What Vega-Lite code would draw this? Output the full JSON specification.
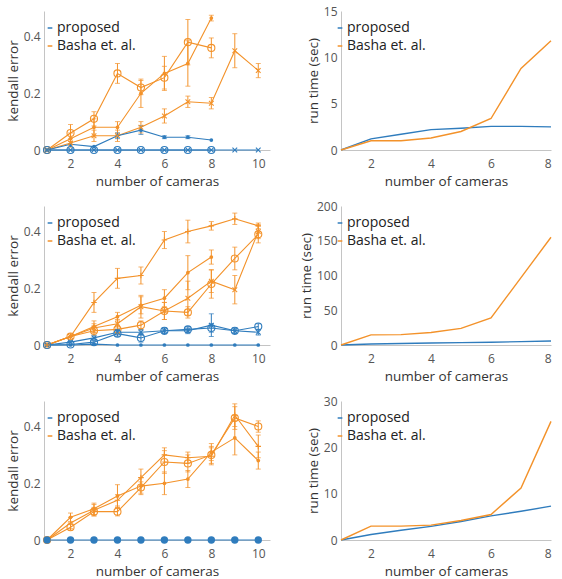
{
"$schema":"https://vega.github.io/schema/vega-lite/v6.json",
"padding":{"left":6,"top":5,"right":0,"bottom":0},
"background":"white",
"bounds":"flush",
"columns":2,
"spacing":{"row":56,"column":71},
"resolve":{"scale":{"color":"independent"},"legend":{"color":"independent"}},
"config":{
 "view":{"stroke":null},
 "font":"Open Sans",
 "axis":{"domainColor":"#c4c4c4","domainWidth":1,"ticks":false,"tickSize":0,"grid":false,"labelFont":"Open Sans","labelFontSize":12,"labelColor":"#555555","titleFont":"Open Sans","titleFontSize":13.5,"titleFontWeight":"normal","titleColor":"#333333"},
 "axisX":{"labelPadding":8,"titlePadding":5},
 "axisY":{"labelPadding":4,"titlePadding":3},
 "legend":{"padding":0,"symbolType":"stroke","symbolSize":22,"symbolStrokeWidth":1.5,"labelFont":"Open Sans","labelFontSize":14,"labelColor":"#222222","rowPadding":4,"labelOffset":0}
},
"datasets":{
"err":[
{"p":1,"s":"A","m":"Basha et. al.","k":"o","x":1,"y":0},
{"p":1,"s":"A","m":"Basha et. al.","k":"o","x":2,"y":0.06,"lo":0.03,"hi":0.09},
{"p":1,"s":"A","m":"Basha et. al.","k":"o","x":3,"y":0.11,"lo":0.085,"hi":0.135},
{"p":1,"s":"A","m":"Basha et. al.","k":"o","x":4,"y":0.27,"lo":0.235,"hi":0.305},
{"p":1,"s":"A","m":"Basha et. al.","k":"o","x":5,"y":0.22,"lo":0.195,"hi":0.245},
{"p":1,"s":"A","m":"Basha et. al.","k":"o","x":6,"y":0.255,"lo":0.215,"hi":0.295},
{"p":1,"s":"A","m":"Basha et. al.","k":"o","x":7,"y":0.38,"lo":0.30,"hi":0.46},
{"p":1,"s":"A","m":"Basha et. al.","k":"o","x":8,"y":0.36,"lo":0.325,"hi":0.395},
{"p":1,"s":"B","m":"Basha et. al.","k":".","x":1,"y":0},
{"p":1,"s":"B","m":"Basha et. al.","k":".","x":2,"y":0.04,"lo":0.02,"hi":0.06},
{"p":1,"s":"B","m":"Basha et. al.","k":".","x":3,"y":0.08,"lo":0.05,"hi":0.11},
{"p":1,"s":"B","m":"Basha et. al.","k":".","x":4,"y":0.08,"lo":0.06,"hi":0.10},
{"p":1,"s":"B","m":"Basha et. al.","k":".","x":5,"y":0.20,"lo":0.15,"hi":0.25},
{"p":1,"s":"B","m":"Basha et. al.","k":".","x":6,"y":0.27,"lo":0.21,"hi":0.33},
{"p":1,"s":"B","m":"Basha et. al.","k":".","x":7,"y":0.305,"lo":0.225,"hi":0.385},
{"p":1,"s":"B","m":"Basha et. al.","k":".","x":8,"y":0.465,"lo":0.455,"hi":0.475},
{"p":1,"s":"C","m":"Basha et. al.","k":"x","x":1,"y":0},
{"p":1,"s":"C","m":"Basha et. al.","k":"x","x":2,"y":0.025,"lo":0.01,"hi":0.04},
{"p":1,"s":"C","m":"Basha et. al.","k":"x","x":3,"y":0.05,"lo":0.03,"hi":0.07},
{"p":1,"s":"C","m":"Basha et. al.","k":"x","x":4,"y":0.05,"lo":0.03,"hi":0.07},
{"p":1,"s":"C","m":"Basha et. al.","k":"x","x":5,"y":0.08,"lo":0.06,"hi":0.10},
{"p":1,"s":"C","m":"Basha et. al.","k":"x","x":6,"y":0.12,"lo":0.095,"hi":0.145},
{"p":1,"s":"C","m":"Basha et. al.","k":"x","x":7,"y":0.17,"lo":0.15,"hi":0.19},
{"p":1,"s":"C","m":"Basha et. al.","k":"x","x":8,"y":0.165,"lo":0.145,"hi":0.185},
{"p":1,"s":"C","m":"Basha et. al.","k":"x","x":9,"y":0.35,"lo":0.29,"hi":0.41},
{"p":1,"s":"C","m":"Basha et. al.","k":"x","x":10,"y":0.28,"lo":0.255,"hi":0.305},
{"p":1,"s":"D","m":"proposed","k":".","x":1,"y":0},
{"p":1,"s":"D","m":"proposed","k":".","x":2,"y":0.02},
{"p":1,"s":"D","m":"proposed","k":".","x":3,"y":0.012},
{"p":1,"s":"D","m":"proposed","k":".","x":4,"y":0.05,"lo":0.04,"hi":0.06},
{"p":1,"s":"D","m":"proposed","k":".","x":5,"y":0.07,"lo":0.055,"hi":0.085},
{"p":1,"s":"D","m":"proposed","k":".","x":6,"y":0.045,"lo":0.04,"hi":0.05},
{"p":1,"s":"D","m":"proposed","k":".","x":7,"y":0.045,"lo":0.04,"hi":0.05},
{"p":1,"s":"D","m":"proposed","k":".","x":8,"y":0.035},
{"p":1,"s":"E","m":"proposed","k":"o","x":1,"y":0},
{"p":1,"s":"E","m":"proposed","k":"o","x":2,"y":0},
{"p":1,"s":"E","m":"proposed","k":"o","x":3,"y":0},
{"p":1,"s":"E","m":"proposed","k":"o","x":4,"y":0},
{"p":1,"s":"E","m":"proposed","k":"o","x":5,"y":0},
{"p":1,"s":"E","m":"proposed","k":"o","x":6,"y":0},
{"p":1,"s":"E","m":"proposed","k":"o","x":7,"y":0},
{"p":1,"s":"E","m":"proposed","k":"o","x":8,"y":0},
{"p":1,"s":"F","m":"proposed","k":"x","x":1,"y":0},
{"p":1,"s":"F","m":"proposed","k":"x","x":2,"y":0},
{"p":1,"s":"F","m":"proposed","k":"x","x":3,"y":0},
{"p":1,"s":"F","m":"proposed","k":"x","x":4,"y":0},
{"p":1,"s":"F","m":"proposed","k":"x","x":5,"y":0},
{"p":1,"s":"F","m":"proposed","k":"x","x":6,"y":0},
{"p":1,"s":"F","m":"proposed","k":"x","x":7,"y":0},
{"p":1,"s":"F","m":"proposed","k":"x","x":8,"y":0},
{"p":1,"s":"F","m":"proposed","k":"x","x":9,"y":0},
{"p":1,"s":"F","m":"proposed","k":"x","x":10,"y":0},
{"p":2,"s":"G","m":"Basha et. al.","k":"+","x":1,"y":0},
{"p":2,"s":"G","m":"Basha et. al.","k":"+","x":2,"y":0.03,"lo":0.02,"hi":0.04},
{"p":2,"s":"G","m":"Basha et. al.","k":"+","x":3,"y":0.15,"lo":0.115,"hi":0.185},
{"p":2,"s":"G","m":"Basha et. al.","k":"+","x":4,"y":0.235,"lo":0.2,"hi":0.27},
{"p":2,"s":"G","m":"Basha et. al.","k":"+","x":5,"y":0.245,"lo":0.215,"hi":0.275},
{"p":2,"s":"G","m":"Basha et. al.","k":"+","x":6,"y":0.37,"lo":0.34,"hi":0.40},
{"p":2,"s":"G","m":"Basha et. al.","k":"+","x":7,"y":0.40,"lo":0.36,"hi":0.44},
{"p":2,"s":"G","m":"Basha et. al.","k":"+","x":8,"y":0.42,"lo":0.405,"hi":0.435},
{"p":2,"s":"G","m":"Basha et. al.","k":"+","x":9,"y":0.445,"lo":0.425,"hi":0.465},
{"p":2,"s":"G","m":"Basha et. al.","k":"+","x":10,"y":0.42,"lo":0.41,"hi":0.43},
{"p":2,"s":"H","m":"Basha et. al.","k":".","x":1,"y":0},
{"p":2,"s":"H","m":"Basha et. al.","k":".","x":2,"y":0.03},
{"p":2,"s":"H","m":"Basha et. al.","k":".","x":3,"y":0.065,"lo":0.045,"hi":0.085},
{"p":2,"s":"H","m":"Basha et. al.","k":".","x":4,"y":0.10,"lo":0.085,"hi":0.115},
{"p":2,"s":"H","m":"Basha et. al.","k":".","x":5,"y":0.14,"lo":0.11,"hi":0.17},
{"p":2,"s":"H","m":"Basha et. al.","k":".","x":6,"y":0.165,"lo":0.135,"hi":0.195},
{"p":2,"s":"H","m":"Basha et. al.","k":".","x":7,"y":0.255,"lo":0.195,"hi":0.315},
{"p":2,"s":"H","m":"Basha et. al.","k":".","x":8,"y":0.31,"lo":0.285,"hi":0.335},
{"p":2,"s":"I","m":"Basha et. al.","k":"o","x":1,"y":0},
{"p":2,"s":"I","m":"Basha et. al.","k":"o","x":2,"y":0.03},
{"p":2,"s":"I","m":"Basha et. al.","k":"o","x":3,"y":0.05,"lo":0.035,"hi":0.065},
{"p":2,"s":"I","m":"Basha et. al.","k":"o","x":4,"y":0.055,"lo":0.04,"hi":0.07},
{"p":2,"s":"I","m":"Basha et. al.","k":"o","x":5,"y":0.07,"lo":0.055,"hi":0.085},
{"p":2,"s":"I","m":"Basha et. al.","k":"o","x":6,"y":0.12,"lo":0.09,"hi":0.15},
{"p":2,"s":"I","m":"Basha et. al.","k":"o","x":7,"y":0.115,"lo":0.095,"hi":0.135},
{"p":2,"s":"I","m":"Basha et. al.","k":"o","x":8,"y":0.215,"lo":0.165,"hi":0.265},
{"p":2,"s":"I","m":"Basha et. al.","k":"o","x":9,"y":0.305,"lo":0.265,"hi":0.345},
{"p":2,"s":"I","m":"Basha et. al.","k":"o","x":10,"y":0.39,"lo":0.36,"hi":0.42},
{"p":2,"s":"J","m":"Basha et. al.","k":"x","x":1,"y":0},
{"p":2,"s":"J","m":"Basha et. al.","k":"x","x":2,"y":0.03},
{"p":2,"s":"J","m":"Basha et. al.","k":"x","x":3,"y":0.06,"lo":0.045,"hi":0.075},
{"p":2,"s":"J","m":"Basha et. al.","k":"x","x":4,"y":0.075,"lo":0.06,"hi":0.09},
{"p":2,"s":"J","m":"Basha et. al.","k":"x","x":5,"y":0.135,"lo":0.095,"hi":0.175},
{"p":2,"s":"J","m":"Basha et. al.","k":"x","x":6,"y":0.12,"lo":0.09,"hi":0.15},
{"p":2,"s":"J","m":"Basha et. al.","k":"x","x":7,"y":0.165,"lo":0.105,"hi":0.225},
{"p":2,"s":"J","m":"Basha et. al.","k":"x","x":8,"y":0.225,"lo":0.185,"hi":0.265},
{"p":2,"s":"J","m":"Basha et. al.","k":"x","x":9,"y":0.195,"lo":0.145,"hi":0.245},
{"p":2,"s":"J","m":"Basha et. al.","k":"x","x":10,"y":0.40,"lo":0.375,"hi":0.425},
{"p":2,"s":"L","m":"proposed","k":"o","x":1,"y":0},
{"p":2,"s":"L","m":"proposed","k":"o","x":2,"y":0.002},
{"p":2,"s":"L","m":"proposed","k":"o","x":3,"y":0.01,"lo":0.005,"hi":0.015},
{"p":2,"s":"L","m":"proposed","k":"o","x":4,"y":0.04,"lo":0.03,"hi":0.05},
{"p":2,"s":"L","m":"proposed","k":"o","x":5,"y":0.025,"lo":0.01,"hi":0.04},
{"p":2,"s":"L","m":"proposed","k":"o","x":6,"y":0.05,"lo":0.04,"hi":0.06},
{"p":2,"s":"L","m":"proposed","k":"o","x":7,"y":0.055,"lo":0.045,"hi":0.065},
{"p":2,"s":"L","m":"proposed","k":"o","x":8,"y":0.06,"lo":0.045,"hi":0.075},
{"p":2,"s":"L","m":"proposed","k":"o","x":9,"y":0.05,"lo":0.04,"hi":0.06},
{"p":2,"s":"L","m":"proposed","k":"o","x":10,"y":0.065,"lo":0.055,"hi":0.075},
{"p":2,"s":"M","m":"proposed","k":"x","x":1,"y":0},
{"p":2,"s":"M","m":"proposed","k":"x","x":2,"y":0.01},
{"p":2,"s":"M","m":"proposed","k":"x","x":3,"y":0.025,"lo":0.015,"hi":0.035},
{"p":2,"s":"M","m":"proposed","k":"x","x":4,"y":0.045,"lo":0.035,"hi":0.055},
{"p":2,"s":"M","m":"proposed","k":"x","x":5,"y":0.045,"lo":0.035,"hi":0.055},
{"p":2,"s":"M","m":"proposed","k":"x","x":6,"y":0.05,"lo":0.04,"hi":0.06},
{"p":2,"s":"M","m":"proposed","k":"x","x":7,"y":0.05,"lo":0.04,"hi":0.06},
{"p":2,"s":"M","m":"proposed","k":"x","x":8,"y":0.07,"lo":0.03,"hi":0.11},
{"p":2,"s":"M","m":"proposed","k":"x","x":9,"y":0.05,"lo":0.04,"hi":0.06},
{"p":2,"s":"M","m":"proposed","k":"x","x":10,"y":0.045,"lo":0.035,"hi":0.055},
{"p":2,"s":"N","m":"proposed","k":".","x":1,"y":0},
{"p":2,"s":"N","m":"proposed","k":".","x":2,"y":0},
{"p":2,"s":"N","m":"proposed","k":".","x":3,"y":0.003},
{"p":2,"s":"N","m":"proposed","k":".","x":4,"y":0},
{"p":2,"s":"N","m":"proposed","k":".","x":5,"y":0},
{"p":2,"s":"N","m":"proposed","k":".","x":6,"y":0},
{"p":2,"s":"N","m":"proposed","k":".","x":7,"y":0},
{"p":2,"s":"N","m":"proposed","k":".","x":8,"y":0},
{"p":2,"s":"N","m":"proposed","k":".","x":9,"y":0},
{"p":2,"s":"N","m":"proposed","k":".","x":10,"y":0},
{"p":3,"s":"P","m":"Basha et. al.","k":"o","x":1,"y":0},
{"p":3,"s":"P","m":"Basha et. al.","k":"o","x":2,"y":0.045,"lo":0.035,"hi":0.055},
{"p":3,"s":"P","m":"Basha et. al.","k":"o","x":3,"y":0.10,"lo":0.085,"hi":0.115},
{"p":3,"s":"P","m":"Basha et. al.","k":"o","x":4,"y":0.10,"lo":0.085,"hi":0.115},
{"p":3,"s":"P","m":"Basha et. al.","k":"o","x":5,"y":0.185,"lo":0.165,"hi":0.205},
{"p":3,"s":"P","m":"Basha et. al.","k":"o","x":6,"y":0.275,"lo":0.235,"hi":0.315},
{"p":3,"s":"P","m":"Basha et. al.","k":"o","x":7,"y":0.27,"lo":0.24,"hi":0.30},
{"p":3,"s":"P","m":"Basha et. al.","k":"o","x":8,"y":0.30,"lo":0.27,"hi":0.33},
{"p":3,"s":"P","m":"Basha et. al.","k":"o","x":9,"y":0.43,"lo":0.39,"hi":0.47},
{"p":3,"s":"P","m":"Basha et. al.","k":"o","x":10,"y":0.40,"lo":0.38,"hi":0.42},
{"p":3,"s":"Q","m":"Basha et. al.","k":".","x":1,"y":0},
{"p":3,"s":"Q","m":"Basha et. al.","k":".","x":2,"y":0.08,"lo":0.065,"hi":0.095},
{"p":3,"s":"Q","m":"Basha et. al.","k":".","x":3,"y":0.11,"lo":0.09,"hi":0.13},
{"p":3,"s":"Q","m":"Basha et. al.","k":".","x":4,"y":0.155,"lo":0.115,"hi":0.195},
{"p":3,"s":"Q","m":"Basha et. al.","k":".","x":5,"y":0.19,"lo":0.16,"hi":0.22},
{"p":3,"s":"Q","m":"Basha et. al.","k":".","x":6,"y":0.20,"lo":0.16,"hi":0.24},
{"p":3,"s":"Q","m":"Basha et. al.","k":".","x":7,"y":0.215,"lo":0.185,"hi":0.245},
{"p":3,"s":"Q","m":"Basha et. al.","k":".","x":8,"y":0.31,"lo":0.28,"hi":0.34},
{"p":3,"s":"Q","m":"Basha et. al.","k":".","x":9,"y":0.36,"lo":0.30,"hi":0.42},
{"p":3,"s":"Q","m":"Basha et. al.","k":".","x":10,"y":0.28,"lo":0.25,"hi":0.31},
{"p":3,"s":"R","m":"Basha et. al.","k":"+","x":1,"y":0},
{"p":3,"s":"R","m":"Basha et. al.","k":"+","x":2,"y":0.06,"lo":0.04,"hi":0.08},
{"p":3,"s":"R","m":"Basha et. al.","k":"+","x":3,"y":0.105,"lo":0.085,"hi":0.125},
{"p":3,"s":"R","m":"Basha et. al.","k":"+","x":4,"y":0.14,"lo":0.12,"hi":0.16},
{"p":3,"s":"R","m":"Basha et. al.","k":"+","x":5,"y":0.22,"lo":0.19,"hi":0.25},
{"p":3,"s":"R","m":"Basha et. al.","k":"+","x":6,"y":0.30,"lo":0.275,"hi":0.325},
{"p":3,"s":"R","m":"Basha et. al.","k":"+","x":7,"y":0.29,"lo":0.27,"hi":0.31},
{"p":3,"s":"R","m":"Basha et. al.","k":"+","x":8,"y":0.295,"lo":0.265,"hi":0.325},
{"p":3,"s":"R","m":"Basha et. al.","k":"+","x":9,"y":0.44,"lo":0.40,"hi":0.48},
{"p":3,"s":"R","m":"Basha et. al.","k":"+","x":10,"y":0.33,"lo":0.29,"hi":0.37},
{"p":3,"s":"S","m":"proposed","k":"O","x":1,"y":0},
{"p":3,"s":"S","m":"proposed","k":"O","x":2,"y":0},
{"p":3,"s":"S","m":"proposed","k":"O","x":3,"y":0},
{"p":3,"s":"S","m":"proposed","k":"O","x":4,"y":0},
{"p":3,"s":"S","m":"proposed","k":"O","x":5,"y":0},
{"p":3,"s":"S","m":"proposed","k":"O","x":6,"y":0},
{"p":3,"s":"S","m":"proposed","k":"O","x":7,"y":0},
{"p":3,"s":"S","m":"proposed","k":"O","x":8,"y":0},
{"p":3,"s":"S","m":"proposed","k":"O","x":9,"y":0},
{"p":3,"s":"S","m":"proposed","k":"O","x":10,"y":0}
],
"time":[
{"p":1,"m":"proposed","x":1,"t":0},{"p":1,"m":"proposed","x":2,"t":1.2},{"p":1,"m":"proposed","x":3,"t":1.7},{"p":1,"m":"proposed","x":4,"t":2.2},{"p":1,"m":"proposed","x":5,"t":2.35},{"p":1,"m":"proposed","x":6,"t":2.55},{"p":1,"m":"proposed","x":7,"t":2.55},{"p":1,"m":"proposed","x":8,"t":2.5},
{"p":1,"m":"Basha et. al.","x":1,"t":0},{"p":1,"m":"Basha et. al.","x":2,"t":1.0},{"p":1,"m":"Basha et. al.","x":3,"t":1.0},{"p":1,"m":"Basha et. al.","x":4,"t":1.3},{"p":1,"m":"Basha et. al.","x":5,"t":2.0},{"p":1,"m":"Basha et. al.","x":6,"t":3.4},{"p":1,"m":"Basha et. al.","x":7,"t":8.8},{"p":1,"m":"Basha et. al.","x":8,"t":11.8},
{"p":2,"m":"proposed","x":1,"t":0},{"p":2,"m":"proposed","x":2,"t":1.5},{"p":2,"m":"proposed","x":3,"t":2.2},{"p":2,"m":"proposed","x":4,"t":2.8},{"p":2,"m":"proposed","x":5,"t":3.4},{"p":2,"m":"proposed","x":6,"t":4.0},{"p":2,"m":"proposed","x":7,"t":4.8},{"p":2,"m":"proposed","x":8,"t":5.8},
{"p":2,"m":"Basha et. al.","x":1,"t":0},{"p":2,"m":"Basha et. al.","x":2,"t":14.5},{"p":2,"m":"Basha et. al.","x":3,"t":15},{"p":2,"m":"Basha et. al.","x":4,"t":18},{"p":2,"m":"Basha et. al.","x":5,"t":24},{"p":2,"m":"Basha et. al.","x":6,"t":39},{"p":2,"m":"Basha et. al.","x":7,"t":97},{"p":2,"m":"Basha et. al.","x":8,"t":155},
{"p":3,"m":"proposed","x":1,"t":0},{"p":3,"m":"proposed","x":2,"t":1.2},{"p":3,"m":"proposed","x":3,"t":2.1},{"p":3,"m":"proposed","x":4,"t":2.95},{"p":3,"m":"proposed","x":5,"t":4.0},{"p":3,"m":"proposed","x":6,"t":5.2},{"p":3,"m":"proposed","x":7,"t":6.2},{"p":3,"m":"proposed","x":8,"t":7.3},
{"p":3,"m":"Basha et. al.","x":1,"t":0},{"p":3,"m":"Basha et. al.","x":2,"t":3.0},{"p":3,"m":"Basha et. al.","x":3,"t":3.0},{"p":3,"m":"Basha et. al.","x":4,"t":3.2},{"p":3,"m":"Basha et. al.","x":5,"t":4.2},{"p":3,"m":"Basha et. al.","x":6,"t":5.5},{"p":3,"m":"Basha et. al.","x":7,"t":11.2},{"p":3,"m":"Basha et. al.","x":8,"t":25.6}
]
},
"concat":[
 {"width":226,"height":139,"data":{"name":"err"},"transform":[{"filter":"datum.p==1"}],
  "encoding":{"x":{"field":"x","type":"quantitative","scale":{"domain":[0.87,10.5],"nice":false,"zero":false},"axis":{"values":[2,4,6,8,10],"title":"number of cameras"}}},
  "layer":[
   {"mark":{"type":"line","strokeWidth":1.1},"encoding":{"y":{"field":"y","type":"quantitative","scale":{"domain":[0,0.49],"nice":false},"axis":{"values":[0,0.1,0.2,0.3,0.4],"format":"~g","title":"kendall error"}},"detail":{"field":"s"},"color":{"field":"m","type":"nominal","title":null,"scale":{"domain":["proposed","Basha et. al."],"range":["#2f7cbd","#f3922a"]},"legend":{"orient":"none","legendX":-1,"legendY":10}}}},
   {"transform":[{"filter":"isValid(datum.lo)"}],"mark":{"type":"rule","strokeWidth":1},"encoding":{"y":{"field":"lo","type":"quantitative","scale":{"domain":[0,0.49],"nice":false},"title":"kendall error"},"y2":{"field":"hi"},"color":{"condition":{"test":"datum.m==='proposed'","value":"#2f7cbd"},"value":"#f3922a"}}},
   {"transform":[{"filter":"isValid(datum.lo)"}],"mark":{"type":"tick","orient":"horizontal","size":5,"thickness":1},"encoding":{"y":{"field":"lo","type":"quantitative","scale":{"domain":[0,0.49],"nice":false},"title":"kendall error"},"color":{"condition":{"test":"datum.m==='proposed'","value":"#2f7cbd"},"value":"#f3922a"}}},
   {"transform":[{"filter":"isValid(datum.lo)"}],"mark":{"type":"tick","orient":"horizontal","size":5,"thickness":1},"encoding":{"y":{"field":"hi","type":"quantitative","scale":{"domain":[0,0.49],"nice":false},"title":"kendall error"},"color":{"condition":{"test":"datum.m==='proposed'","value":"#2f7cbd"},"value":"#f3922a"}}},
   {"transform":[{"filter":"datum.k==='o'"}],"mark":{"type":"point","shape":"circle","filled":false,"size":50,"strokeWidth":1.1,"opacity":1},"encoding":{"y":{"field":"y","type":"quantitative","scale":{"domain":[0,0.49],"nice":false},"title":"kendall error"},"color":{"condition":{"test":"datum.m==='proposed'","value":"#2f7cbd"},"value":"#f3922a"}}},
   {"transform":[{"filter":"datum.k==='.'"}],"mark":{"type":"point","shape":"circle","filled":true,"size":14,"opacity":1},"encoding":{"y":{"field":"y","type":"quantitative","scale":{"domain":[0,0.49],"nice":false},"title":"kendall error"},"color":{"condition":{"test":"datum.m==='proposed'","value":"#2f7cbd"},"value":"#f3922a"}}},
   {"transform":[{"filter":"datum.k==='x'"}],"mark":{"type":"point","shape":"M-1,-1L1,1M-1,1L1,-1","filled":false,"size":22,"strokeWidth":1.1,"opacity":1},"encoding":{"y":{"field":"y","type":"quantitative","scale":{"domain":[0,0.49],"nice":false},"title":"kendall error"},"color":{"condition":{"test":"datum.m==='proposed'","value":"#2f7cbd"},"value":"#f3922a"}}}
  ]},
 {"width":210,"height":139,"data":{"name":"time"},"transform":[{"filter":"datum.p==1"}],"mark":{"type":"line","strokeWidth":1.4},
  "encoding":{"x":{"field":"x","type":"quantitative","scale":{"domain":[1,8],"nice":false,"zero":false},"axis":{"values":[2,4,6,8],"title":"number of cameras"}},
   "y":{"field":"t","type":"quantitative","scale":{"domain":[0,15],"nice":false},"axis":{"values":[0,5,10,15],"title":"run time (sec)"}},
   "color":{"field":"m","type":"nominal","title":null,"scale":{"domain":["proposed","Basha et. al."],"range":["#2f7cbd","#f3922a"]},"legend":{"orient":"none","legendX":-8,"legendY":10}}}},
 {"width":226,"height":139,"data":{"name":"err"},"transform":[{"filter":"datum.p==2"}],
  "encoding":{"x":{"field":"x","type":"quantitative","scale":{"domain":[0.87,10.5],"nice":false,"zero":false},"axis":{"values":[2,4,6,8,10],"title":"number of cameras"}}},
  "layer":[
   {"mark":{"type":"line","strokeWidth":1.1},"encoding":{"y":{"field":"y","type":"quantitative","scale":{"domain":[0,0.49],"nice":false},"axis":{"values":[0,0.1,0.2,0.3,0.4],"format":"~g","title":"kendall error"}},"detail":{"field":"s"},"color":{"field":"m","type":"nominal","title":null,"scale":{"domain":["proposed","Basha et. al."],"range":["#2f7cbd","#f3922a"]},"legend":{"orient":"none","legendX":-1,"legendY":10}}}},
   {"transform":[{"filter":"isValid(datum.lo)"}],"mark":{"type":"rule","strokeWidth":1},"encoding":{"y":{"field":"lo","type":"quantitative","scale":{"domain":[0,0.49],"nice":false},"title":"kendall error"},"y2":{"field":"hi"},"color":{"condition":{"test":"datum.m==='proposed'","value":"#2f7cbd"},"value":"#f3922a"}}},
   {"transform":[{"filter":"isValid(datum.lo)"}],"mark":{"type":"tick","orient":"horizontal","size":5,"thickness":1},"encoding":{"y":{"field":"lo","type":"quantitative","scale":{"domain":[0,0.49],"nice":false},"title":"kendall error"},"color":{"condition":{"test":"datum.m==='proposed'","value":"#2f7cbd"},"value":"#f3922a"}}},
   {"transform":[{"filter":"isValid(datum.lo)"}],"mark":{"type":"tick","orient":"horizontal","size":5,"thickness":1},"encoding":{"y":{"field":"hi","type":"quantitative","scale":{"domain":[0,0.49],"nice":false},"title":"kendall error"},"color":{"condition":{"test":"datum.m==='proposed'","value":"#2f7cbd"},"value":"#f3922a"}}},
   {"transform":[{"filter":"datum.k==='o'"}],"mark":{"type":"point","shape":"circle","filled":false,"size":50,"strokeWidth":1.1,"opacity":1},"encoding":{"y":{"field":"y","type":"quantitative","scale":{"domain":[0,0.49],"nice":false},"title":"kendall error"},"color":{"condition":{"test":"datum.m==='proposed'","value":"#2f7cbd"},"value":"#f3922a"}}},
   {"transform":[{"filter":"datum.k==='.'"}],"mark":{"type":"point","shape":"circle","filled":true,"size":14,"opacity":1},"encoding":{"y":{"field":"y","type":"quantitative","scale":{"domain":[0,0.49],"nice":false},"title":"kendall error"},"color":{"condition":{"test":"datum.m==='proposed'","value":"#2f7cbd"},"value":"#f3922a"}}},
   {"transform":[{"filter":"datum.k==='x'"}],"mark":{"type":"point","shape":"M-1,-1L1,1M-1,1L1,-1","filled":false,"size":22,"strokeWidth":1.1,"opacity":1},"encoding":{"y":{"field":"y","type":"quantitative","scale":{"domain":[0,0.49],"nice":false},"title":"kendall error"},"color":{"condition":{"test":"datum.m==='proposed'","value":"#2f7cbd"},"value":"#f3922a"}}},
   {"transform":[{"filter":"datum.k==='+'"}],"mark":{"type":"point","shape":"M-1,0L1,0M0,-1L0,1","filled":false,"size":30,"strokeWidth":1.1,"opacity":1},"encoding":{"y":{"field":"y","type":"quantitative","scale":{"domain":[0,0.49],"nice":false},"title":"kendall error"},"color":{"condition":{"test":"datum.m==='proposed'","value":"#2f7cbd"},"value":"#f3922a"}}}
  ]},
 {"width":210,"height":139,"data":{"name":"time"},"transform":[{"filter":"datum.p==2"}],"mark":{"type":"line","strokeWidth":1.4},
  "encoding":{"x":{"field":"x","type":"quantitative","scale":{"domain":[1,8],"nice":false,"zero":false},"axis":{"values":[2,4,6,8],"title":"number of cameras"}},
   "y":{"field":"t","type":"quantitative","scale":{"domain":[0,200],"nice":false},"axis":{"values":[0,50,100,150,200],"title":"run time (sec)"}},
   "color":{"field":"m","type":"nominal","title":null,"scale":{"domain":["proposed","Basha et. al."],"range":["#2f7cbd","#f3922a"]},"legend":{"orient":"none","legendX":-8,"legendY":10}}}},
 {"width":226,"height":139,"data":{"name":"err"},"transform":[{"filter":"datum.p==3"}],
  "encoding":{"x":{"field":"x","type":"quantitative","scale":{"domain":[0.87,10.5],"nice":false,"zero":false},"axis":{"values":[2,4,6,8,10],"title":"number of cameras"}}},
  "layer":[
   {"mark":{"type":"line","strokeWidth":1.1},"encoding":{"y":{"field":"y","type":"quantitative","scale":{"domain":[0,0.49],"nice":false},"axis":{"values":[0,0.1,0.2,0.3,0.4],"format":"~g","title":"kendall error"}},"detail":{"field":"s"},"color":{"field":"m","type":"nominal","title":null,"scale":{"domain":["proposed","Basha et. al."],"range":["#2f7cbd","#f3922a"]},"legend":{"orient":"none","legendX":-1,"legendY":10}}}},
   {"transform":[{"filter":"isValid(datum.lo)"}],"mark":{"type":"rule","strokeWidth":1},"encoding":{"y":{"field":"lo","type":"quantitative","scale":{"domain":[0,0.49],"nice":false},"title":"kendall error"},"y2":{"field":"hi"},"color":{"condition":{"test":"datum.m==='proposed'","value":"#2f7cbd"},"value":"#f3922a"}}},
   {"transform":[{"filter":"isValid(datum.lo)"}],"mark":{"type":"tick","orient":"horizontal","size":5,"thickness":1},"encoding":{"y":{"field":"lo","type":"quantitative","scale":{"domain":[0,0.49],"nice":false},"title":"kendall error"},"color":{"condition":{"test":"datum.m==='proposed'","value":"#2f7cbd"},"value":"#f3922a"}}},
   {"transform":[{"filter":"isValid(datum.lo)"}],"mark":{"type":"tick","orient":"horizontal","size":5,"thickness":1},"encoding":{"y":{"field":"hi","type":"quantitative","scale":{"domain":[0,0.49],"nice":false},"title":"kendall error"},"color":{"condition":{"test":"datum.m==='proposed'","value":"#2f7cbd"},"value":"#f3922a"}}},
   {"transform":[{"filter":"datum.k==='o'"}],"mark":{"type":"point","shape":"circle","filled":false,"size":50,"strokeWidth":1.1,"opacity":1},"encoding":{"y":{"field":"y","type":"quantitative","scale":{"domain":[0,0.49],"nice":false},"title":"kendall error"},"color":{"condition":{"test":"datum.m==='proposed'","value":"#2f7cbd"},"value":"#f3922a"}}},
   {"transform":[{"filter":"datum.k==='.'"}],"mark":{"type":"point","shape":"circle","filled":true,"size":14,"opacity":1},"encoding":{"y":{"field":"y","type":"quantitative","scale":{"domain":[0,0.49],"nice":false},"title":"kendall error"},"color":{"condition":{"test":"datum.m==='proposed'","value":"#2f7cbd"},"value":"#f3922a"}}},
   {"transform":[{"filter":"datum.k==='+'"}],"mark":{"type":"point","shape":"M-1,0L1,0M0,-1L0,1","filled":false,"size":30,"strokeWidth":1.1,"opacity":1},"encoding":{"y":{"field":"y","type":"quantitative","scale":{"domain":[0,0.49],"nice":false},"title":"kendall error"},"color":{"condition":{"test":"datum.m==='proposed'","value":"#2f7cbd"},"value":"#f3922a"}}},
   {"transform":[{"filter":"datum.k==='O'"}],"mark":{"type":"point","shape":"circle","filled":true,"size":55,"opacity":1},"encoding":{"y":{"field":"y","type":"quantitative","scale":{"domain":[0,0.49],"nice":false},"title":"kendall error"},"color":{"condition":{"test":"datum.m==='proposed'","value":"#2f7cbd"},"value":"#f3922a"}}}
  ]},
 {"width":210,"height":139,"data":{"name":"time"},"transform":[{"filter":"datum.p==3"}],"mark":{"type":"line","strokeWidth":1.4},
  "encoding":{"x":{"field":"x","type":"quantitative","scale":{"domain":[1,8],"nice":false,"zero":false},"axis":{"values":[2,4,6,8],"title":"number of cameras"}},
   "y":{"field":"t","type":"quantitative","scale":{"domain":[0,30],"nice":false},"axis":{"values":[0,10,20,30],"title":"run time (sec)"}},
   "color":{"field":"m","type":"nominal","title":null,"scale":{"domain":["proposed","Basha et. al."],"range":["#2f7cbd","#f3922a"]},"legend":{"orient":"none","legendX":-8,"legendY":10}}}}
]
}
